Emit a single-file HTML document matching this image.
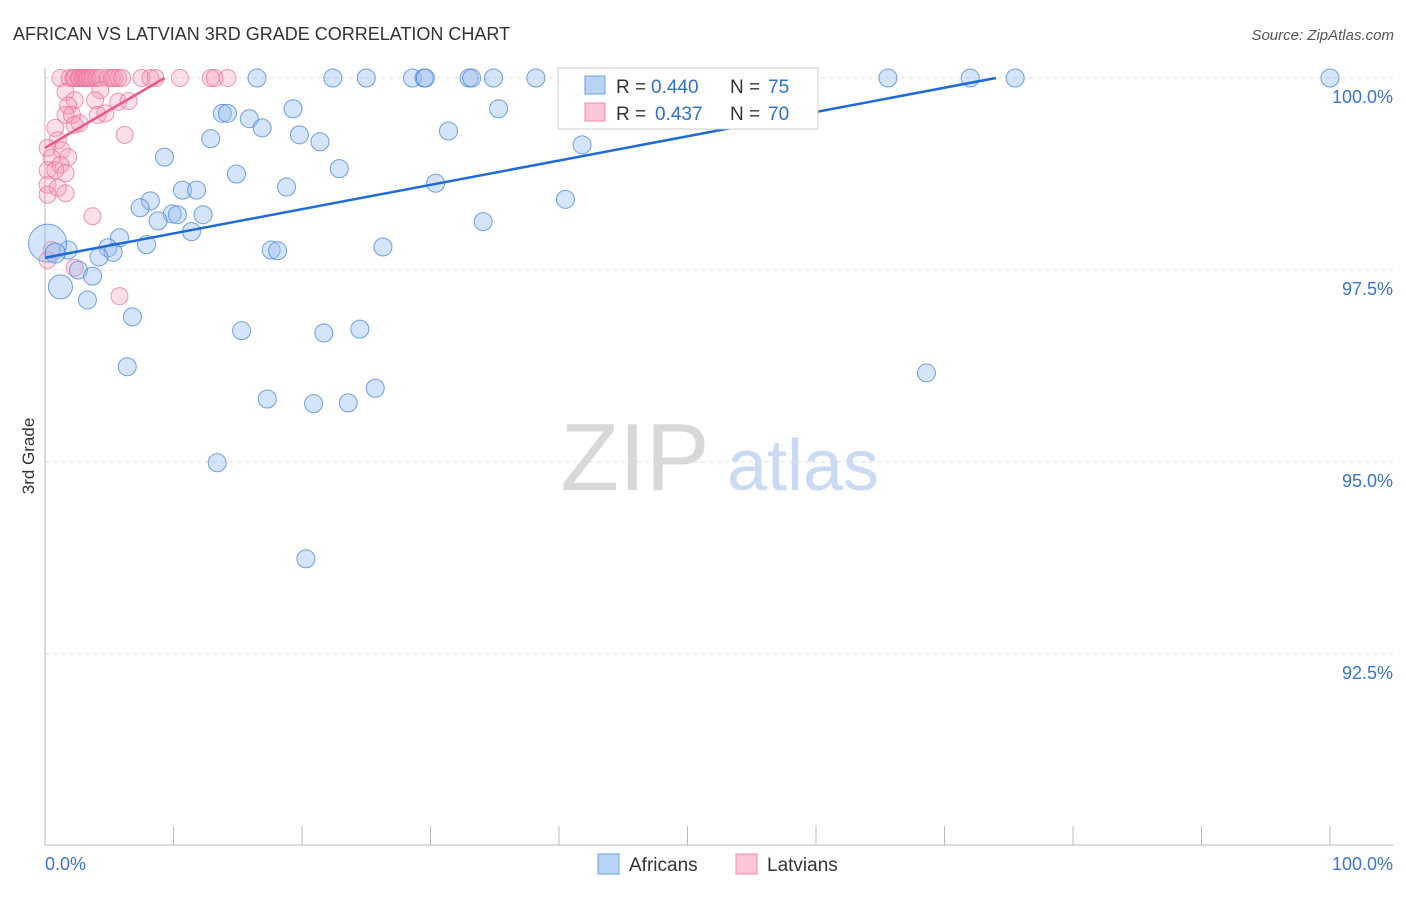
<!DOCTYPE html>
<html><head><meta charset="utf-8"><style>
body{margin:0;background:#fff;font-family:"Liberation Sans",sans-serif;}
svg text{font-family:"Liberation Sans",sans-serif;}
</style></head><body>
<svg id="chart" width="1406" height="892" xmlns="http://www.w3.org/2000/svg">
<text x="13" y="40" font-size="18" fill="#333">AFRICAN VS LATVIAN 3RD GRADE CORRELATION CHART</text>
<text x="1394" y="40" font-size="15" fill="#555" text-anchor="end" font-style="italic">Source: ZipAtlas.com</text>
<g>
<text x="635" y="490" font-size="96" fill="#d8d8d8" font-family="Liberation Serif" text-anchor="middle">ZIP</text>
<text x="803" y="490" font-size="72" fill="#c9daf2" text-anchor="middle">atlas</text>
</g>
<g id="grid"></g>
<g id="axes"></g>
<g id="marks"></g>
<text transform="translate(34,456) rotate(-90)" font-size="17" fill="#333" text-anchor="middle">3rd Grade</text>
<g>
<rect x="558" y="68" width="260" height="61" fill="#fff" stroke="#ccc"/>
<rect x="585" y="76" width="20" height="18" fill="#b9d3f5" stroke="#6fa0e0"/>
<rect x="585" y="103" width="20" height="18" fill="#fbc6d6" stroke="#f08cab"/>
<text x="616" y="93" font-size="19" fill="#333">R =</text>
<text x="651" y="93" font-size="19" fill="#2f6fd6">0.440</text>
<text x="730" y="93" font-size="19" fill="#333">N =</text>
<text x="768" y="93" font-size="19" fill="#2f6fd6">75</text>
<text x="616" y="120" font-size="19" fill="#333">R =</text>
<text x="655" y="120" font-size="19" fill="#2f6fd6">0.437</text>
<text x="730" y="120" font-size="19" fill="#333">N =</text>
<text x="768" y="120" font-size="19" fill="#2f6fd6">70</text>
</g>
<g>
<rect x="598" y="854" width="21" height="20" fill="#b9d3f5" stroke="#6fa0e0"/>
<text x="629" y="871" font-size="19" fill="#333">Africans</text>
<rect x="736" y="854" width="21" height="20" fill="#fbc6d6" stroke="#f08cab"/>
<text x="767" y="871" font-size="19" fill="#333">Latvians</text>
</g>
</svg>
<script>
const yTicks=[100,97.5,95,92.5];
const yTickLabels=["100.0%","97.5%","95.0%","92.5%"];
const xTickLabels=["0.0%","100.0%"];
const africanX=[16.5,22.4,25.0,28.6,29.5,29.6,33.0,33.2,34.9,38.2,43.0,43.3,52.3,55.6,59.0,65.6,72.0,75.5,100,13.8,14.2,19.3,35.3,15.9,16.9,31.4,19.8,21.4,12.9,41.8,9.3,14.9,22.9,30.4,18.8,10.7,11.8,40.5,8.2,7.4,9.9,10.3,12.3,8.8,34.1,11.4,5.8,7.9,26.3,1.8,4.9,5.3,17.6,18.1,4.2,0.2,0.8,2.6,3.7,1.2,3.3,6.8,15.3,21.7,24.5,6.4,68.6,25.7,17.3,20.9,23.6,13.4,20.3];
const africanY=[100,100,100,100,100,100,100,100,100,100,100,100,100,100,100,100,100,100,100,99.54,99.54,99.6,99.6,99.47,99.35,99.31,99.26,99.17,99.21,99.13,98.97,98.75,98.82,98.63,98.58,98.54,98.54,98.42,98.4,98.31,98.23,98.22,98.22,98.14,98.13,98.0,97.92,97.83,97.8,97.76,97.79,97.73,97.76,97.75,97.67,97.85,97.72,97.5,97.42,97.28,97.11,96.89,96.71,96.68,96.73,96.24,96.16,95.96,95.82,95.76,95.77,94.99,93.74];
const africanSize=[9,9,9,9,9,9,9,9,9,9,9,9,9,9,9,9,9,9,9,9,9,9,9,9,9,9,9,9,9,9,9,9,9,9,9,9,9,9,9,9,9,9,9,9,9,9,9,9,9,9,9,9,9,9,9,19,10,9,9,12,9,9,9,9,9,9,9,9,9,9,9,9,9];
const latvianX=[1.2,1.9,2.2,2.3,2.6,2.7,2.9,3.0,3.2,3.3,3.5,3.7,4.0,4.3,4.9,5.2,5.4,5.7,6.0,7.5,8.2,8.6,10.5,12.9,13.2,14.2,1.6,4.3,2.3,3.9,1.8,5.7,6.5,1.6,2.1,4.1,4.7,2.7,0.8,2.3,6.2,1.0,0.2,1.3,0.5,1.8,1.2,0.2,0.8,1.6,0.2,1.0,1.6,0.2,3.7,0.2,2.3,5.8,0.5];
const latvianY=[100,100,100,100,100,100,100,100,100,100,100,100,100,100,100,100,100,100,100,100,100,100,100,100,100,100,99.82,99.84,99.71,99.71,99.64,99.69,99.7,99.52,99.52,99.52,99.54,99.41,99.35,99.39,99.26,99.19,99.09,99.06,98.96,98.97,98.87,98.8,98.8,98.76,98.61,98.57,98.5,98.48,98.2,97.63,97.53,97.16,97.76];
const africanTrendX=[0,74];
const africanTrendY=[97.66,100];
const latvianTrendX=[0,9.3];
const latvianTrendY=[99.09,100];

const NS="http://www.w3.org/2000/svg";
const X=v=>45+v*12.85;
const Y=v=>78+(100-v)*76.8;
function mk(tag,attrs,parent){const e=document.createElementNS(NS,tag);for(const k in attrs)e.setAttribute(k,attrs[k]);parent.appendChild(e);return e;}
const grid=document.getElementById('grid'),axes=document.getElementById('axes'),marks=document.getElementById('marks');
yTicks.forEach((t,i)=>{
  const l=mk('line',{x1:45,x2:1393,y1:Y(t),y2:Y(t),stroke:'#ddd','stroke-dasharray':'4,4'},grid);
  
  
  const tx=mk('text',{x:1393,y:Y(t)+25,'font-size':18,fill:'#3b73d1','text-anchor':'end'},axes);
  tx.textContent=yTickLabels[i];
  
  
});
const ax=mk('line',{x1:45,x2:45,y1:68,y2:845,stroke:'#bbb'},axes);


const bx=mk('line',{x1:45,x2:1393,y1:845,y2:845,stroke:'#bbb'},axes);


for(let i=0;i<=10;i++){
  const t=mk('line',{x1:X(i*10),x2:X(i*10),y1:826,y2:845,stroke:'#bbb'},axes);
  
  
}
[[0,'start',45],[100,'end',1393]].forEach((d,i)=>{
  const tx=mk('text',{x:d[2],y:870,'font-size':18,fill:'#3b73d1','text-anchor':d[1]},axes);
  tx.textContent=xTickLabels[i];
  
  
});
latvianX.forEach((x,i)=>{
  const c=mk('circle',{cx:X(x),cy:Y(latvianY[i]),r:8.5,fill:'rgba(246,150,180,0.3)',stroke:'rgba(235,110,150,0.7)','stroke-width':1},marks);
  
  
});
africanX.forEach((x,i)=>{
  const c=mk('circle',{cx:X(x),cy:Y(africanY[i]),r:africanSize[i],fill:'rgba(150,190,240,0.4)',stroke:'rgba(70,130,220,0.75)','stroke-width':1},marks);
  
  
});
const t1=mk('line',{x1:X(africanTrendX[0]),y1:Y(africanTrendY[0]),x2:X(africanTrendX[1]),y2:Y(africanTrendY[1]),stroke:'#1f6ad6','stroke-width':2.5},marks);


const t2=mk('line',{x1:X(latvianTrendX[0]),y1:Y(latvianTrendY[0]),x2:X(latvianTrendX[1]),y2:Y(latvianTrendY[1]),stroke:'#e8588a','stroke-width':2.5},marks);


</script>
</body></html>
